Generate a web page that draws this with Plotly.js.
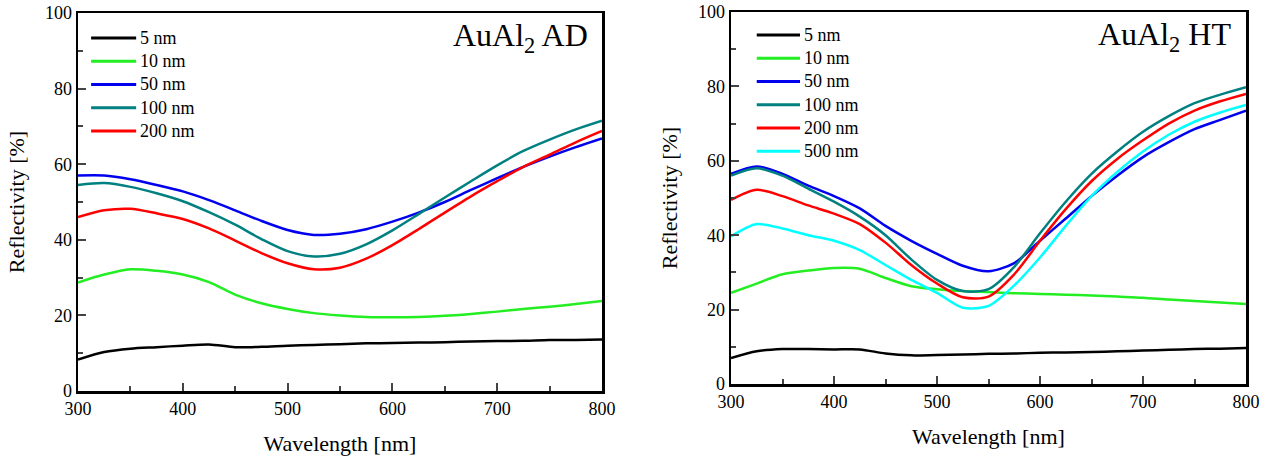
<!DOCTYPE html>
<html>
<head>
<meta charset="utf-8">
<script src="https://cdn.plot.ly/plotly-3.0.1.min.js"></script>
<style>html,body{margin:0;padding:0;background:#fff;}#chart{width:1272px;height:458px;}</style>
</head>
<body>
<div id="chart"></div>
<script>
// Wavelength grid [nm]
const wavelength = [300,325,350,375,400,425,450,475,500,525,550,575,600,625,650,675,700,725,750,775,800];

// AuAl2 AD (as deposited) reflectivity [%]
const ad_5nm   = [8.3,10.3,11.2,11.6,12.0,12.3,11.6,11.7,12.0,12.2,12.4,12.6,12.7,12.8,12.9,13.1,13.2,13.3,13.5,13.5,13.6];
const ad_10nm  = [28.7,30.8,32.2,31.8,30.8,28.8,25.5,23.2,21.7,20.6,20.0,19.6,19.5,19.6,19.9,20.4,21.0,21.7,22.3,23.0,23.8];
const ad_50nm  = [57.0,57.0,56.0,54.5,52.8,50.5,47.8,45.0,42.6,41.3,41.6,42.8,44.8,47.2,50.0,53.2,56.3,59.3,62.0,64.5,66.8];
const ad_100nm = [54.5,55.0,54.0,52.3,50.2,47.3,44.0,40.2,37.0,35.6,36.3,38.8,42.5,46.8,51.2,55.5,59.7,63.5,66.5,69.2,71.5];
const ad_200nm = [46.0,47.8,48.2,47.0,45.5,43.0,39.8,36.5,33.8,32.2,32.6,35.0,38.6,42.8,47.2,51.5,55.5,59.3,62.5,65.8,68.8];

// AuAl2 HT (heat treated) reflectivity [%]
const ht_5nm   = [7.0,8.8,9.4,9.4,9.3,9.3,8.2,7.7,7.8,7.9,8.1,8.2,8.4,8.5,8.6,8.8,9.0,9.2,9.4,9.5,9.7];
const ht_10nm  = [24.5,27.0,29.5,30.5,31.2,31.0,28.5,26.3,25.5,25.0,24.7,24.4,24.2,24.0,23.8,23.5,23.2,22.7,22.3,21.9,21.5];
const ht_50nm  = [56.5,58.5,56.5,53.3,50.5,47.2,42.5,38.5,35.0,31.8,30.3,32.5,38.5,44.5,50.5,56.0,61.0,65.0,68.5,71.0,73.5];
const ht_100nm = [56.0,58.0,56.0,52.5,49.0,45.0,40.0,33.5,28.0,25.0,25.5,31.5,40.5,49.0,56.5,62.5,67.8,72.0,75.5,77.8,79.8];
const ht_200nm = [49.5,52.2,50.5,48.0,45.8,43.0,38.0,32.0,27.0,23.3,23.5,29.5,38.5,47.0,54.5,60.5,65.5,70.0,73.5,76.0,78.0];
const ht_500nm = [39.7,43.0,41.8,40.0,38.5,36.0,32.0,28.0,24.5,20.5,21.0,26.5,34.0,42.5,50.5,57.0,62.5,67.0,70.5,73.0,75.0];

// Labels
const ad_labels = ["5 nm","10 nm","50 nm","100 nm","200 nm"];
const ht_labels = ["5 nm","10 nm","50 nm","100 nm","200 nm","500 nm"];
const panelTitles = ["AuAl<sub>2</sub> AD","AuAl<sub>2</sub> HT"];
const xTitle = "Wavelength [nm]";
const yTitle = "Reflectivity [%]";

const colors = ["#000000","#22ee22","#0000ee","#008080","#ff0000","#00ffff"];
const FONT = "Liberation Serif";

const adSeries = [ad_5nm, ad_10nm, ad_50nm, ad_100nm, ad_200nm];
const htSeries = [ht_5nm, ht_10nm, ht_50nm, ht_100nm, ht_200nm, ht_500nm];

const traces = [];
adSeries.forEach((s,i)=>traces.push({x:wavelength,y:s,xaxis:'x',yaxis:'y',type:'scatter',mode:'lines',
  line:{color:colors[i],width:2.5,shape:'spline',smoothing:0.8},name:ad_labels[i],showlegend:false}));
htSeries.forEach((s,i)=>traces.push({x:wavelength,y:s,xaxis:'x2',yaxis:'y2',type:'scatter',mode:'lines',
  line:{color:colors[i],width:2.5,shape:'spline',smoothing:0.8},name:ht_labels[i],showlegend:false}));

const shapes = [];
const annotations = [];
function addLegend(labels, xr, yr, x0, x1, xt, y0, dy){
  labels.forEach((lab,i)=>{
    const y = y0 - i*dy;
    shapes.push({type:'line',xref:xr+' domain',yref:yr+' domain',x0:x0,x1:x1,y0:y,y1:y,line:{color:colors[i],width:3}});
    annotations.push({xref:xr+' domain',yref:yr+' domain',x:xt,y:y,xanchor:'left',yanchor:'middle',showarrow:false,
      text:lab,font:{family:FONT,size:18,color:'#000'}});
  });
}
addLegend(ad_labels,'x','y',0.025,0.111,0.114,0.934,0.0615);
addLegend(ht_labels,'x2','y2',0.050,0.134,0.138,0.938,0.0624);

annotations.push({xref:'x domain',yref:'y domain',x:0.978,y:0.935,xanchor:'right',yanchor:'middle',showarrow:false,
  text:panelTitles[0],font:{family:FONT,size:32,color:'#000'}});
annotations.push({xref:'x2 domain',yref:'y2 domain',x:0.975,y:0.935,xanchor:'right',yanchor:'middle',showarrow:false,
  text:panelTitles[1],font:{family:FONT,size:32,color:'#000'}});

function xax(domain, anchor){
  return {domain:domain,anchor:anchor,range:[300,800],dtick:100,tick0:300,ticks:'inside',ticklen:8,tickwidth:2,
    minor:{dtick:50,ticks:'inside',ticklen:5,tickwidth:2},
    showline:true,linewidth:2.5,linecolor:'#000',mirror:true,showgrid:false,zeroline:false,
    tickfont:{family:FONT,size:18,color:'#000'},
    title:{text:xTitle,font:{family:FONT,size:22,color:'#000'},standoff:18}};
}
function yax(domain, anchor){
  return {domain:domain,anchor:anchor,range:[0,100],dtick:20,ticks:'inside',ticklen:8,tickwidth:2,
    minor:{dtick:10,ticks:'inside',ticklen:5,tickwidth:2},
    showline:true,linewidth:2.5,linecolor:'#000',mirror:true,showgrid:false,zeroline:false,
    tickfont:{family:FONT,size:18,color:'#000'},
    title:{text:yTitle,font:{family:FONT,size:22,color:'#000'},standoff:14}};
}

const layout = {
  width:1272,height:458,margin:{l:0,r:0,t:0,b:0},
  paper_bgcolor:'#fff',plot_bgcolor:'#fff',showlegend:false,
  xaxis:xax([78/1272,602/1272],'y'),
  yaxis:yax([1-391/458,1-13/458],'x'),
  xaxis2:xax([731/1272,1246/1272],'y2'),
  yaxis2:yax([1-384/458,1-12/458],'x2'),
  shapes:shapes,annotations:annotations
};
Plotly.newPlot('chart',traces,layout,{staticPlot:true,displayModeBar:false});
</script>
</body>
</html>
